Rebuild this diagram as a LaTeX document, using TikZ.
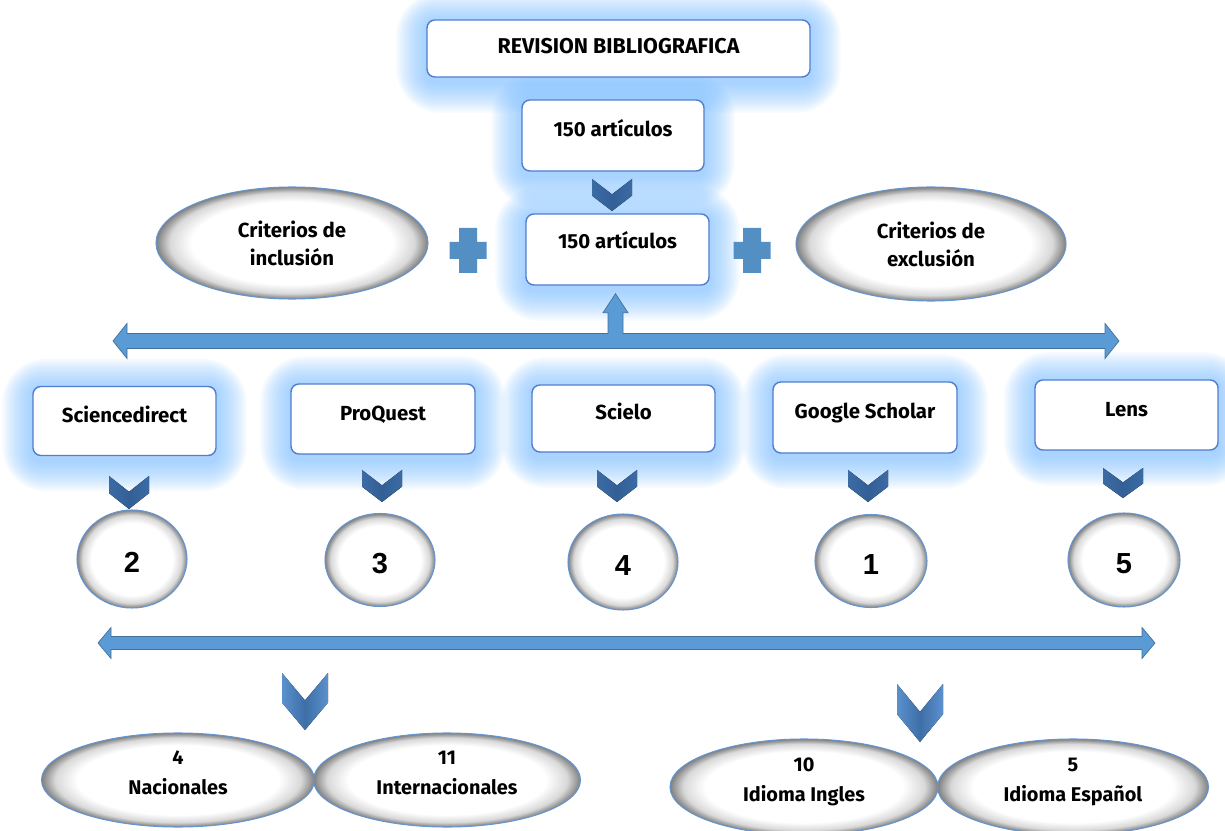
\documentclass[tikz,border=0pt]{standalone}
\usepackage{fontspec}
\setmainfont{Fira Sans}
\newfontfamily\numfont{Liberation Sans}
\usetikzlibrary{shapes.geometric,calc}
\pgfdeclarelayer{background}
\pgfsetlayers{background,main}
\definecolor{boxblue}{RGB}{80,125,205}
\definecolor{glowc}{RGB}{130,195,255}
\definecolor{arrfill}{RGB}{91,155,213}
\definecolor{arrdraw}{RGB}{65,113,156}
\definecolor{chevL}{RGB}{90,145,205}
\definecolor{chevD}{RGB}{50,95,150}
\definecolor{ellb}{RGB}{100,150,210}
\pgfdeclareradialshading{ellsh}{\pgfpoint{0bp}{0bp}}{color(0bp)=(white); color(18.5bp)=(white); color(22.5bp)=(black!15); color(25bp)=(black!50); color(50bp)=(black!50)}
\def\px{0.02cm}
\tikzset{
  srcbox/.style={draw=boxblue, line width=0.8pt, fill=white, rounded corners=4.5pt,
    font=\bfseries\fontsize{11.6}{13}\selectfont, text height=8pt, text depth=6.5pt, inner sep=0pt},
  oval/.style={ellipse, draw=ellb, line width=0.6pt, shading=ellsh, align=center, inner sep=0pt,
    font=\bfseries\fontsize{11.6}{16}\selectfont},
  numoval/.style={oval, font=\numfont\bfseries\fontsize{16.5}{16}\selectfont, text height=15pt, text depth=0pt},
  botoval/.style={oval, font=\bfseries\fontsize{11.3}{17}\selectfont, text depth=8pt},
  arrowshape/.style={fill=arrfill, draw=arrdraw, line width=0.4pt, line join=miter},
  chevs/.style={left color=chevD!75!chevL, right color=chevD!75!chevL, middle color=chevD},
  chevb/.style={left color=chevL, right color=chevL, middle color=chevD!70!chevL},
  plusc/.style={fill=arrfill!92!black},
}
\newcommand\mychev[5]{% style, x, ytop, w, h
  \fill[#1] (#2-#4/2,#3) -- (#2,#3+0.48*#5) -- (#2+#4/2,#3) -- (#2+#4/2,#3+0.52*#5)
    -- (#2,#3+#5) -- (#2-#4/2,#3+0.52*#5) -- cycle;}
\newcommand\myplus[2]{%
  \fill[plusc] (#1-9,#2-22.5) -- (#1+9,#2-22.5) -- (#1+9,#2-8.5) -- (#1+18.5,#2-8.5)
    -- (#1+18.5,#2+8.5) -- (#1+9,#2+8.5) -- (#1+9,#2+22.5) -- (#1-9,#2+22.5)
    -- (#1-9,#2+8.5) -- (#1-18.5,#2+8.5) -- (#1-18.5,#2-8.5) -- (#1-9,#2-8.5) -- cycle;}
\begin{document}
\begin{tikzpicture}[x=0.02cm,y=-0.02cm]
\begin{pgfonlayer}{background}
\fill[white] (0,0) rectangle (1225,831);
\end{pgfonlayer}
\useasboundingbox (0,0) rectangle (1225,831);

% boxes
\node[srcbox, minimum width=383*\px, minimum height=57*\px, text depth=2pt, font=\bfseries\fontsize{12.2}{13}\selectfont] (rev) at (618.5,48.5) {REVISION BIBLIOGRAFICA};
\node[srcbox, minimum width=182*\px, minimum height=71*\px] (a1) at (613,135.5) {150 artículos};
\node[srcbox, minimum width=183*\px, minimum height=71*\px, text depth=9.5pt] (a2) at (617.5,249.5) {150 artículos};
\node[srcbox, minimum width=183*\px, minimum height=69*\px] (sd) at (124.5,421) {Sciencedirect};
\node[srcbox, minimum width=184*\px, minimum height=70*\px] (pq) at (383,419) {ProQuest};
\node[srcbox, minimum width=183*\px, minimum height=67*\px] (sc) at (623.5,418.5) {Scielo};
\node[srcbox, minimum width=184*\px, minimum height=71*\px] (gs) at (865,417.5) {Google Scholar};
\node[srcbox, minimum width=183*\px, minimum height=70*\px] (ln) at (1126.5,415) {Lens};

% glow
\begin{pgfonlayer}{background}
\foreach \n in {rev,a1,a2,sd,pq,sc,gs,ln}{
  \foreach \e in {2,4,...,30}{
    \fill[glowc, opacity=0.065, rounded corners=\e*0.7pt+4pt]
      ($(\n.south west)+(-\e,\e+5)$) rectangle ($(\n.north east)+(\e,-\e+3)$);
  }}
\end{pgfonlayer}

% criteria ovals
\node[oval, minimum width=272*\px, minimum height=112*\px] (inc) at (292,243) {Criterios de\\inclusión};
\node[oval, minimum width=270*\px, minimum height=114*\px] (exc) at (931,244) {Criterios de\\exclusión};
\myplus{468}{250.5}
\myplus{752}{250.5}

% number ovals
\node[numoval, minimum width=110*\px, minimum height=98*\px] (c2) at (132,559) {2};
\node[numoval, minimum width=110*\px, minimum height=93*\px] (c3) at (380,560) {3};
\node[numoval, minimum width=110*\px, minimum height=96*\px] (c4) at (623,562) {4};
\node[numoval, minimum width=112*\px, minimum height=93*\px] (c1) at (871,561) {1};
\node[numoval, minimum width=112*\px, minimum height=94*\px] (c5) at (1124,560) {5};

% bottom ovals
\node[botoval, minimum width=273*\px, minimum height=94*\px] (nac) at (178,780) {4\\Nacionales};
\node[botoval, minimum width=267*\px, minimum height=94*\px] (int) at (447,780) {11\\Internacionales};
\node[botoval, minimum width=268*\px, minimum height=96*\px] (ing) at (804,787) {10\\Idioma Ingles};
\node[botoval, minimum width=271*\px, minimum height=96*\px] (esp) at (1073,787) {5\\Idioma Español};

% chevrons
\mychev{chevs}{612}{179}{40}{32}
\mychev{chevs}{129}{476}{40}{33}
\mychev{chevs}{382}{470}{40}{32}
\mychev{chevs}{617}{470}{40}{32}
\mychev{chevs}{868}{470}{40}{32}
\mychev{chevs}{1123}{468}{40}{30}
\mychev{chevb}{305}{673}{46}{57}
\mychev{chevb}{920}{684}{46}{58}

% top double arrow with up branch
\coordinate (tl) at (113,341);
\coordinate (tr) at (1119,341);
\coordinate (upt) at ($(a2.south)+(-2,8)$);
\draw[arrowshape] (tl) -- ($(tl)+(14,-17.5)$) -- ($(tl)+(14,-7.5)$)
  -- ($(upt|-tl)+(-7.5,-7.5)$) -- ($(upt)+(-7.5,19)$) -- ($(upt)+(-12.5,19)$) -- (upt)
  -- ($(upt)+(12.5,19)$) -- ($(upt)+(7.5,19)$) -- ($(upt|-tl)+(7.5,-7.5)$)
  -- ($(tr)+(-14,-7.5)$) -- ($(tr)+(-14,-17.5)$) -- (tr) -- ($(tr)+(-14,17.5)$)
  -- ($(tr)+(-14,7.5)$) -- ($(tl)+(14,7.5)$) -- ($(tl)+(14,17.5)$) -- cycle;

% bottom double arrow
\coordinate (bl) at (98,643);
\coordinate (br) at (1155,643);
\draw[arrowshape] (bl) -- ($(bl)+(13,-15.5)$) -- ($(bl)+(13,-6.5)$) -- ($(br)+(-13,-6.5)$)
  -- ($(br)+(-13,-15.5)$) -- (br) -- ($(br)+(-13,15.5)$) -- ($(br)+(-13,6.5)$)
  -- ($(bl)+(13,6.5)$) -- ($(bl)+(13,15.5)$) -- cycle;
\end{tikzpicture}
\end{document}
